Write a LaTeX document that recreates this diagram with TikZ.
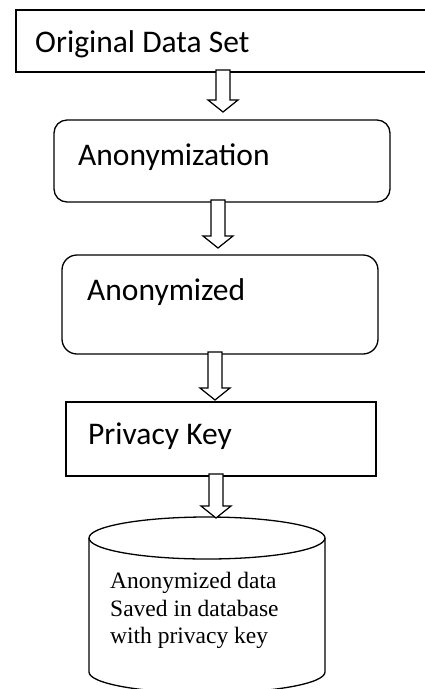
\documentclass[tikz,border=0pt]{standalone}
\usepackage{fontspec}
\setmainfont{Carlito}
\newfontfamily\tnr{Liberation Serif}
\usetikzlibrary{calc}
\tikzset{
  box/.style={draw, line width=1.3pt, inner sep=0pt},
  lbl/.style={anchor=base west, inner sep=0pt, font=\fontsize{31.5}{36}\selectfont},
  clbl/.style={anchor=base west, inner sep=0pt, font=\tnr\fontsize{23.5}{27.5}\selectfont},
  barrow/.style={draw, line width=1.2pt, fill=white, line join=miter},
}
\newcommand\blockarr[2]{%
  \path[barrow] let \p1=(#1), \p2=(#2) in
    (\x1-7pt,\y1) -- (\x1-7pt,\y2+12pt) -- (\x1-15pt,\y2+12pt) -- (\x1,\y2)
    -- (\x1+15pt,\y2+12pt) -- (\x1+7pt,\y2+12pt) -- (\x1+7pt,\y1) -- cycle;}
\begin{document}
\begin{tikzpicture}[x=1pt,y=-1pt]
\clip (0,0) rectangle (425,689);
\fill[white] (0,0) rectangle (425,689);
% boxes
\draw[box] (16,10) rectangle (440,72);
\node[lbl] (t1) at (35,52) {Original Data Set};
\draw[box, rounded corners=13pt] (54,120) rectangle (390,202);
\node[lbl] (t2) at (78,165) {Anonymization};
\draw[box, rounded corners=15pt] (62,255) rectangle (378,354);
\node[lbl] (t3) at (87,300) {Anonymized};
\draw[box] (66,402) rectangle (376,476);
\node[lbl] (t4) at (88,444) {Privacy Key};
% cylinder
\draw[line width=1.3pt, fill=white] (89,538) -- (89,672) arc[start angle=180, end angle=360, x radius=118pt, y radius=21pt] -- (325,538);
\draw[line width=1.3pt] (207,538) ellipse[x radius=118pt, y radius=21pt];
\node[clbl] (t5a) at (110,588) {Anonymized data};
\node[clbl] (t5b) at (110,616) {Saved in database};
\node[clbl] (t5c) at (110,643) {with privacy key};
% arrow coordinates
\coordinate (a1s) at (223,70);
\coordinate (a1e) at (223,112);
\coordinate (a2s) at (218,200);
\coordinate (a2e) at (218,248);
\coordinate (a3s) at (215,352);
\coordinate (a3e) at (215,400);
\coordinate (a4s) at (216,474);
\coordinate (a4e) at (216,518);
\blockarr{a1s}{a1e}
\blockarr{a2s}{a2e}
\blockarr{a3s}{a3e}
\blockarr{a4s}{a4e}
\end{tikzpicture}
\end{document}
